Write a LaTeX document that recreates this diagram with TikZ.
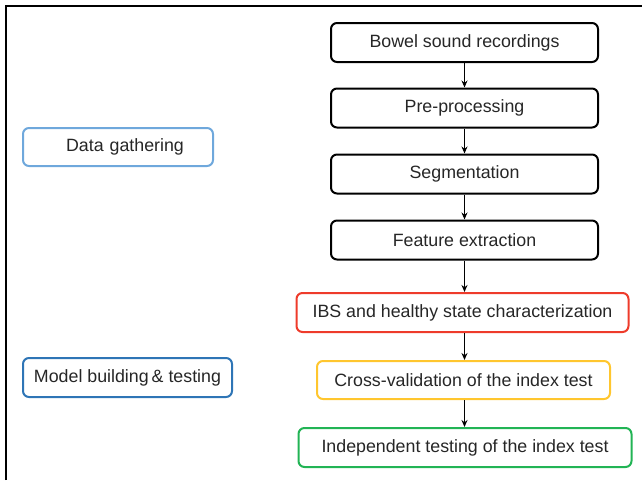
\documentclass[tikz,border=0pt]{standalone}
\usepackage{fontspec}
\setmainfont{Liberation Sans}
\usetikzlibrary{arrows.meta}
\definecolor{lblue}{HTML}{6FA8DC}
\definecolor{dblue}{HTML}{2E75B6}
\definecolor{ibsred}{HTML}{EE3B2B}
\definecolor{cvyellow}{HTML}{FFC62E}
\definecolor{indgreen}{HTML}{22B455}
\begin{document}
\begin{tikzpicture}[x=1pt,y=-1pt,
  box/.style={draw=#1, line width=2pt, rounded corners=6pt, inner sep=0pt,
    font=\fontsize{17.8}{20}\selectfont, text=black!85},
  flow/.style={-{Stealth[length=7pt,width=6pt]}, line width=1.6pt}]
\useasboundingbox (0,0) rectangle (642,480);
\draw[line width=1.6pt] (6,480) -- (6,6) -- (642,6);
\node[box=black, minimum width=267pt, minimum height=39pt] (b1) at (464.5,42.5) {Bowel sound recordings};
\node[box=black, minimum width=267pt, minimum height=39pt] (b2) at (464.5,108) {Pre-processing};
\node[box=black, minimum width=267pt, minimum height=39pt] (b3) at (464.5,174) {Segmentation};
\node[box=black, minimum width=267pt, minimum height=39pt] (b4) at (464.5,240) {Feature extraction};
\node[box=ibsred, minimum width=332pt, minimum height=39pt] (b5) at (462.5,312.5) {IBS and healthy state characterization};
\node[box=cvyellow, minimum width=293pt, minimum height=38pt] (b6) at (463.5,380) {Cross-validation of the index test};
\node[box=indgreen, minimum width=333pt, minimum height=39pt] (b7) at (465,447.5) {Independent testing of the index test};
\node[box=lblue, minimum width=190pt, minimum height=38pt, text width=190pt, align=center] (dg) at (118,147) {\hspace*{14pt}Data gathering};
\node[box=dblue, minimum width=209pt, minimum height=39pt] (mb) at (127.5,377.5) {Model building\,\&\ testing};
\draw[flow] (b1.south -| 464.5,0) -- (b2.north -| 464.5,0);
\draw[flow] (b2.south -| 464.5,0) -- (b3.north -| 464.5,0);
\draw[flow] (b3.south -| 464.5,0) -- (b4.north -| 464.5,0);
\draw[flow] (b4.south -| 464.5,0) -- (b5.north -| 464.5,0);
\draw[flow] (b5.south -| 464.5,0) -- (b6.north -| 464.5,0);
\draw[flow] (b6.south -| 464.5,0) -- (b7.north -| 464.5,0);
\end{tikzpicture}
\end{document}
